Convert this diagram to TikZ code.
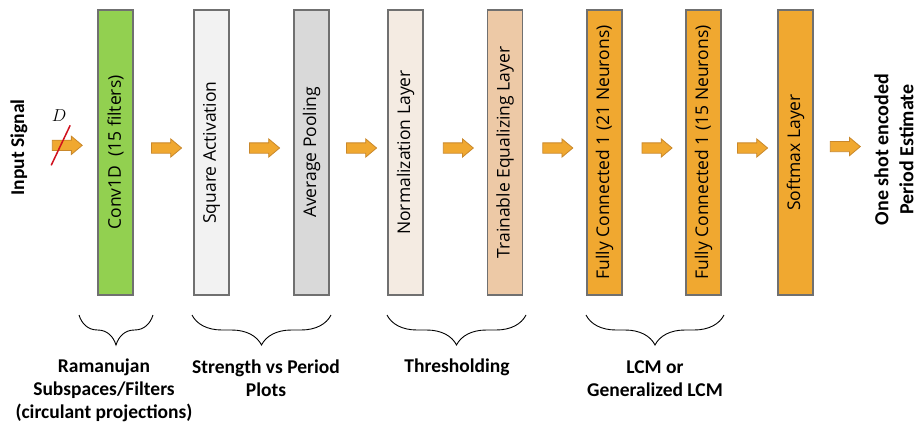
\documentclass[tikz,border=0pt]{standalone}
\usepackage{fontspec}
\usepackage{amsmath}
\setmainfont{Open Sans}
\newfontfamily\capfont{Carlito}
\usetikzlibrary{shapes.arrows,decorations.pathreplacing,calc}

\definecolor{convgreen}{HTML}{92D050}
\definecolor{sqgray}{HTML}{F2F2F2}
\definecolor{poolgray}{HTML}{D9D9D9}
\definecolor{normbeige}{HTML}{F4EBE2}
\definecolor{eqtan}{HTML}{EDC9A6}
\definecolor{fcorange}{HTML}{F0A830}
\definecolor{layerborder}{HTML}{707070}
\definecolor{arrowborder}{HTML}{C9882B}
\definecolor{slashred}{HTML}{D0101E}

\tikzset{
  layer/.style={draw=layerborder, line width=1.3pt, rotate=90,
    minimum width=285pt, minimum height=35pt, inner sep=0pt,
    font=\fontsize{17.5}{20}\selectfont},
  flow/.style={single arrow, draw=arrowborder, fill=fcorange, line width=0.8pt,
    minimum height=30pt, inner xsep=0pt, inner ysep=4.75pt,
    single arrow head extend=4pt, single arrow tip angle=80, yshift=4.5pt},
  caption/.style={align=center, font=\capfont\bfseries\fontsize{19.5}{23}\selectfont},
  grouping/.style={decorate, decoration={brace, mirror, amplitude=30pt}, line width=0.9pt}
}

\begin{document}
\begin{tikzpicture}[x=1pt, y=1pt]
    \useasboundingbox (0,0) rectangle (918,424);

    % Input and output
    \node[caption, rotate=90] (input) at (19,276.5) {Input Signal};
    \node[caption, rotate=90, font=\capfont\bfseries\fontsize{20}{25}\selectfont]
        (output) at (894,274.5) {One shot encoded\\Period Estimate};

    % Layers
    \node[layer, fill=convgreen] (conv) at (115.5,271.5) {Conv1D\ \ (15 filters)};
    \node[layer, fill=sqgray] (square) at (211.5,271.5) {Square Activation};
    \node[layer, fill=poolgray] (pool) at (311.5,271.5) {Average Pooling};
    \node[layer, fill=normbeige] (norm) at (405.5,271.5) {Normalization Layer};
    \node[layer, fill=eqtan] (equal) at (505,271.5) {Trainable Equalizing Layer};
    \node[layer, fill=fcorange] (fca) at (604.5,271.5) {Fully Connected 1 (21 Neurons)};
    \node[layer, fill=fcorange] (fcb) at (703.5,271.5) {Fully Connected 1 (15 Neurons)};
    \node[layer, fill=fcorange] (soft) at (795.5,271.5) {Softmax Layer};

    % Arrows
    \path (input) -- node[flow] (inflow) {} (conv);
    \foreach \a/\b in {conv/square, square/pool, pool/norm, norm/equal,
                       equal/fca, fca/fcb, fcb/soft, soft/output}
        \path (\a) -- node[flow] {} (\b);

    % Input dimension
    \draw[slashred, line width=1.5pt] ($(inflow.center)+(-13,-20)$) -- ($(inflow.center)+(6,20)$);
    \node[font=\fontsize{19}{22}\selectfont] (dim) at ($(inflow.center)+(-5,30)$) {$D$};

    % Groups
    \draw[grouping] (79,109) -- (153,109);
    \draw[grouping] (192,109) -- (331,109);
    \draw[grouping] (387,109) -- (526,109);
    \draw[grouping] (586,109) -- (724,109);

    \node[caption] (ramanujan) at (104,33.5) {Ramanujan\\Subspaces/Filters\\(circulant projections)};
    \node[caption] (strength) at (266,45.5) {Strength vs Period\\Plots};
    \node[caption] (thresh) at (457,57) {Thresholding};
    \node[caption] (lcm) at (655,45) {LCM or\\Generalized LCM};
\end{tikzpicture}
\end{document}
